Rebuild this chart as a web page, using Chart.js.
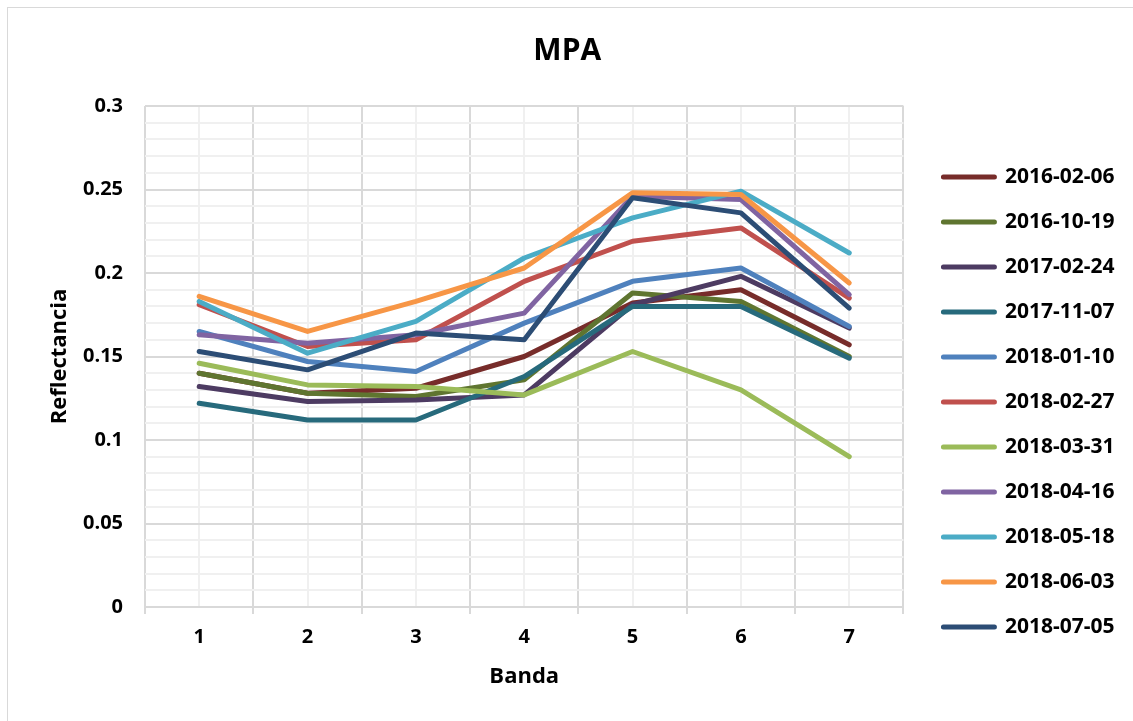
<!DOCTYPE html>
<html>
<head>
<meta charset="utf-8">
<script src="https://cdn.jsdelivr.net/npm/chart.js@4/dist/chart.umd.min.js"></script>
<style>
    html, body { margin: 0; padding: 0; background: #fff; overflow: hidden; }
    #frame { position: absolute; left: 7px; top: 7px; width: 1200px; height: 800px; border: 1px solid #d9d9d9; }
    #wrap { position: absolute; left: 0; top: 0; width: 1133px; height: 721px; }
</style>
</head>
<body>
<div id="frame"></div>
<div id="wrap"><canvas id="chart"></canvas></div>
<script>
// Bands on the x axis
var bands = [1, 2, 3, 4, 5, 6, 7];

// Series names (acquisition dates)
var dates = ["2016-02-06", "2016-10-19", "2017-02-24", "2017-11-07", "2018-01-10", "2018-02-27",
    "2018-03-31", "2018-04-16", "2018-05-18", "2018-06-03", "2018-07-05"];

// Reflectance per band
var r20160206 = [0.140, 0.128, 0.131, 0.150, 0.182, 0.190, 0.157];
var r20161019 = [0.140, 0.128, 0.126, 0.136, 0.188, 0.183, 0.150];
var r20170224 = [0.132, 0.123, 0.124, 0.127, 0.181, 0.198, 0.167];
var r20171107 = [0.122, 0.112, 0.112, 0.138, 0.180, 0.180, 0.149];
var r20180110 = [0.165, 0.147, 0.141, 0.170, 0.195, 0.203, 0.168];
var r20180227 = [0.181, 0.156, 0.160, 0.195, 0.219, 0.227, 0.185];
var r20180331 = [0.146, 0.133, 0.132, 0.127, 0.153, 0.130, 0.090];
var r20180416 = [0.163, 0.158, 0.163, 0.176, 0.246, 0.244, 0.187];
var r20180518 = [0.183, 0.152, 0.171, 0.209, 0.233, 0.249, 0.212];
var r20180603 = [0.186, 0.165, 0.183, 0.203, 0.248, 0.247, 0.194];
var r20180705 = [0.153, 0.142, 0.164, 0.160, 0.245, 0.236, 0.179];

var seriesValues = [r20160206, r20161019, r20170224, r20171107, r20180110, r20180227,
    r20180331, r20180416, r20180518, r20180603, r20180705];

var colors = ["#772c2a", "#5f7530", "#4d3b62", "#276a7c", "#4f81bd", "#c0504d",
    "#9bbb59", "#8064a2", "#4bacc6", "#f79646", "#2c4d75"];

var FONT = "'Open Sans', 'DejaVu Sans', sans-serif";

function isHalf(v) {
    return Math.abs(v - Math.round(v)) > 0.25;
}

var datasets = seriesValues.map(function (vals, i) {
    return {
        label: dates[i],
        data: vals.map(function (v, j) { return { x: bands[j], y: v }; }),
        borderColor: colors[i],
        backgroundColor: colors[i],
        borderWidth: 5,
        borderCapStyle: "round",
        borderJoinStyle: "round",
        pointRadius: 0,
        pointHoverRadius: 0,
        tension: 0,
        fill: false,
        // Excel draws the last series on top
        order: seriesValues.length - 1 - i
    };
});

new Chart(document.getElementById("chart").getContext("2d"), {
    type: "line",
    data: { datasets: datasets },
    options: {
        responsive: true,
        maintainAspectRatio: false,
        animation: false,
        layout: { padding: { left: 10, right: 8.5, top: 0, bottom: 6 } },
        plugins: {
            title: {
                display: true,
                text: "MPA",
                color: "#000",
                font: { family: FONT, size: 30, weight: "bold" },
                padding: { top: 33, bottom: 20 }
            },
            legend: {
                position: "right",
                // empty title only pushes the entries down
                title: {
                    display: true,
                    text: " ",
                    font: { family: FONT, size: 10, lineHeight: 1 },
                    padding: { top: 79, bottom: 0 }
                },
                labels: {
                    color: "#000",
                    font: { family: FONT, size: 21, weight: "bold" },
                    boxWidth: 51,
                    boxHeight: 0,
                    padding: 24,
                    sort: function (a, b) { return a.datasetIndex - b.datasetIndex; }
                }
            },
            tooltip: { enabled: false }
        },
        scales: {
            x: {
                type: "linear",
                min: 0.5,
                max: 7.5,
                border: { display: false },
                grid: {
                    color: function (c) { return c.tick && isHalf(c.tick.value) ? "#d9d9d9" : "#f0f0f0"; },
                    tickColor: function (c) { return c.tick && isHalf(c.tick.value) ? "#d9d9d9" : "rgba(0,0,0,0)"; },
                    tickLength: 7,
                    lineWidth: 2
                },
                ticks: {
                    stepSize: 0.5,
                    autoSkip: false,
                    maxRotation: 0,
                    padding: 11,
                    color: "#000",
                    font: { family: FONT, size: 20, weight: "bold" },
                    callback: function (v) { return isHalf(v) ? "" : String(Math.round(v)); }
                },
                title: {
                    display: true,
                    text: "Banda",
                    color: "#000",
                    font: { family: FONT, size: 22, weight: "bold" },
                    padding: { top: 3.8, bottom: 24.8 }
                }
            },
            y: {
                min: 0,
                max: 0.3,
                border: { display: false },
                grid: {
                    color: function (c) {
                        if (!c.tick) return "#f0f0f0";
                        var k = Math.round(c.tick.value * 100);
                        return k % 5 === 0 ? "#d9d9d9" : "#f0f0f0";
                    },
                    drawTicks: false,
                    lineWidth: 2
                },
                ticks: {
                    stepSize: 0.01,
                    autoSkip: false,
                    padding: 22,
                    color: "#000",
                    font: { family: FONT, size: 20, weight: "bold" },
                    callback: function (v) {
                        var k = Math.round(v * 100);
                        return k % 5 === 0 ? String(k / 100) : "";
                    }
                },
                title: {
                    display: true,
                    text: "Reflectancia",
                    color: "#000",
                    font: { family: FONT, size: 22, weight: "bold" },
                    padding: { top: 36.8, bottom: -12.2 }
                }
            },
            // hidden axes used only as spacers around the plot
            gapRight: {
                type: "linear",
                position: "right",
                display: false,
                afterFit: function (s) { s.width = 16; }
            },
            gapTop: {
                type: "linear",
                position: "top",
                display: false,
                afterFit: function (s) { s.height = 17; }
            }
        }
    }
});
</script>
</body>
</html>
